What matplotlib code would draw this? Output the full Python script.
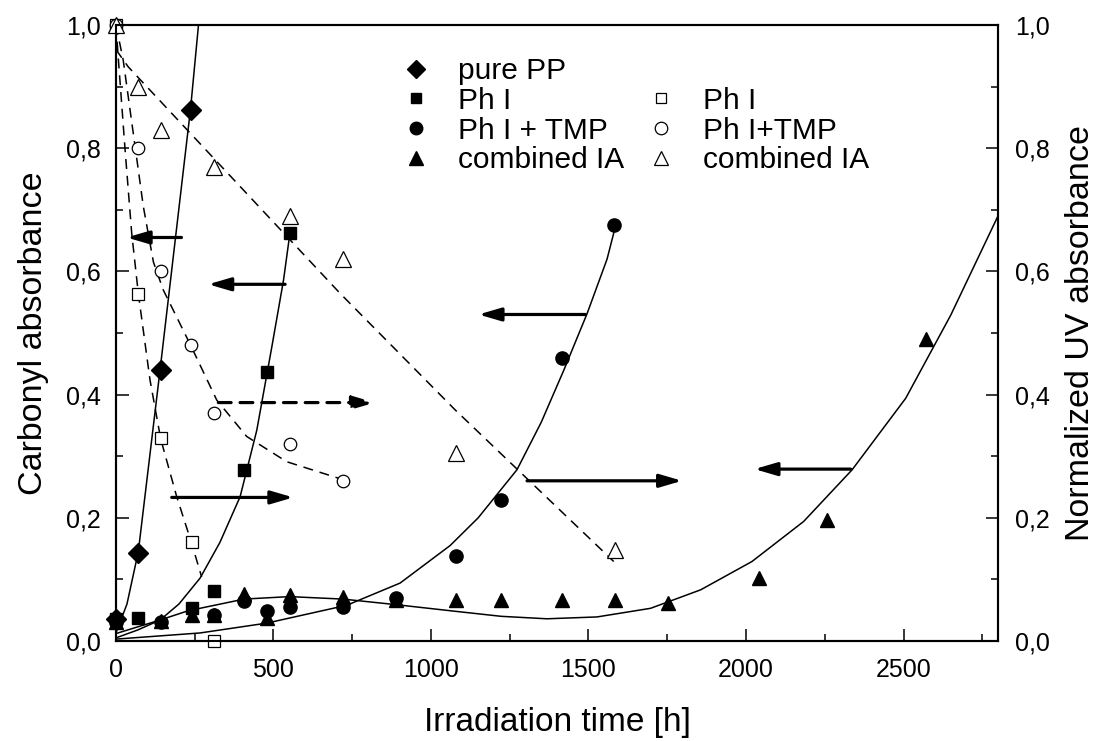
import matplotlib
matplotlib.use("Agg")
import matplotlib.pyplot as plt
from matplotlib.lines import Line2D
from matplotlib.ticker import MultipleLocator, FuncFormatter

plt.rcParams['font.family'] = ['Liberation Sans', 'DejaVu Sans']

# carbonyl absorbance (left axis), filled symbols
pp_t = [0, 70, 143, 237]
pp_y = [0.035, 0.143, 0.44, 0.862]
ph_t = [0, 71, 240, 312, 407, 479, 551]
ph_y = [0.035, 0.037, 0.053, 0.081, 0.278, 0.437, 0.662]
tmp_t = [0, 142, 312, 407, 479, 551, 720, 888, 1080, 1223, 1416, 1582]
tmp_y = [0.03, 0.031, 0.042, 0.065, 0.048, 0.055, 0.055, 0.070, 0.138, 0.229, 0.46, 0.675]
ia_t = [0, 142, 240, 312, 407, 479, 551, 720, 888, 1080, 1223, 1416, 1583, 1751, 2041, 2258, 2571]
ia_y = [0.03, 0.033, 0.042, 0.042, 0.077, 0.038, 0.075, 0.072, 0.066, 0.066, 0.066, 0.067, 0.066, 0.062, 0.102, 0.196, 0.49]

# normalized UV absorbance (right axis), open symbols
uv_ph_t = [0, 71, 142, 240, 312]
uv_ph_y = [1.0, 0.564, 0.33, 0.16, 0.0]
uv_tmp_t = [0, 69, 142, 238, 312, 551, 720]
uv_tmp_y = [1.0, 0.80, 0.60, 0.48, 0.37, 0.32, 0.26]
uv_ia_t = [0, 69, 142, 310, 551, 720, 1080, 1583]
uv_ia_y = [1.0, 0.90, 0.83, 0.77, 0.69, 0.62, 0.305, 0.148]

# fitted curves
fit_pp_t = [0, 35, 71, 140, 237, 262]
fit_pp_y = [0.013, 0.06, 0.145, 0.44, 0.865, 1.0]
fit_ph_t = [0, 70, 140, 200, 267, 330, 394, 447, 495, 532, 553]
fit_ph_y = [0.005, 0.018, 0.034, 0.06, 0.102, 0.16, 0.234, 0.342, 0.478, 0.586, 0.665]
fit_tmp_t = [0, 267, 479, 733, 902, 1061, 1150, 1273, 1350, 1422, 1496, 1559, 1585]
fit_tmp_y = [0.003, 0.013, 0.029, 0.058, 0.094, 0.155, 0.20, 0.278, 0.355, 0.44, 0.532, 0.62, 0.672]
fit_ia_t = [0, 140, 229, 407, 551, 720, 888, 1080, 1223, 1368, 1527, 1697, 1856, 2019, 2183, 2337, 2507, 2650, 2800]
fit_ia_y = [0.012, 0.034, 0.049, 0.068, 0.072, 0.068, 0.059, 0.048, 0.040, 0.036, 0.039, 0.053, 0.083, 0.129, 0.194, 0.278, 0.394, 0.529, 0.69]
fit_uv_ph_t = [0, 7, 29, 50, 71, 108, 142, 193, 240, 272]
fit_uv_ph_y = [1.0, 0.949, 0.797, 0.662, 0.564, 0.424, 0.328, 0.234, 0.159, 0.104]
fit_uv_tmp_t = [0, 23, 55, 87, 119, 150, 238, 320, 415, 542, 720]
fit_uv_tmp_y = [1.0, 0.943, 0.824, 0.705, 0.615, 0.57, 0.479, 0.391, 0.332, 0.291, 0.262]
fit_uv_ia_t = [0, 39, 712, 1077, 1580]
fit_uv_ia_y = [0.96, 0.932, 0.564, 0.375, 0.129]

# arrows pointing to the axis each curve belongs to: (start, end, y, dashed)
arrows = [
    (208, 34, 0.655, False),
    (537, 293, 0.579, False),
    (325, 822, 0.387, True),
    (177, 563, 0.233, False),
    (1490, 1151, 0.530, False),
    (1305, 1797, 0.260, False),
    (2332, 2027, 0.279, False),
]

comma = FuncFormatter(lambda v, p: f"{v:.1f}".replace(".", ","))

fig = plt.figure(figsize=(10.96, 7.41), dpi=100)
ax = fig.add_axes([0.1058, 0.135, 0.8048, 0.8313])
ax2 = ax.twinx()

fit_kw = dict(color='black', lw=1.1)
dash_kw = dict(color='black', lw=1.1, dashes=(6.5, 4.5))

ax.plot(fit_pp_t, fit_pp_y, **fit_kw)
ax.plot(fit_ph_t, fit_ph_y, **fit_kw)
ax.plot(fit_tmp_t, fit_tmp_y, **fit_kw)
ax.plot(fit_ia_t, fit_ia_y, **fit_kw)
ax2.plot(fit_uv_ph_t, fit_uv_ph_y, **dash_kw)
ax2.plot(fit_uv_tmp_t, fit_uv_tmp_y, **dash_kw)
ax2.plot(fit_uv_ia_t, fit_uv_ia_y, **dash_kw)

ax.plot(ia_t, ia_y, '^', color='black', ms=10, clip_on=False)
ax.plot(tmp_t, tmp_y, 'o', color='black', ms=9.5, clip_on=False)
ax.plot(ph_t, ph_y, 's', color='black', ms=8.8, clip_on=False)
ax.plot(pp_t, pp_y, 'D', color='black', ms=10, clip_on=False)

open_kw = dict(mfc='white', mec='black', mew=0.9, ls='none', clip_on=False)
ax2.plot(uv_ph_t, uv_ph_y, 's', ms=8, **open_kw)
ax2.plot(uv_tmp_t, uv_tmp_y, 'o', ms=9, **open_kw)
ax2.plot(uv_ia_t, uv_ia_y, '^', ms=11, **open_kw)

for x0, x1, y, dashed in arrows:
    ax.annotate('', xy=(x1, y), xytext=(x0, y),
                arrowprops=dict(arrowstyle='-|>,head_length=0.75,head_width=0.22',
                                color='black', lw=2.3, shrinkA=0, shrinkB=0,
                                mutation_scale=18,
                                linestyle=(0, (4, 2.8)) if dashed else '-'))

ax.set_xlim(0, 2800)
ax.set_ylim(0, 1.0)
ax2.set_ylim(0, 1.0)

ax.xaxis.set_major_locator(MultipleLocator(500))
ax.xaxis.set_minor_locator(MultipleLocator(250))
for a in (ax, ax2):
    a.yaxis.set_major_locator(MultipleLocator(0.2))
    a.yaxis.set_minor_locator(MultipleLocator(0.1))
    a.yaxis.set_major_formatter(comma)
    for s in a.spines.values():
        s.set_linewidth(1.5)

ax.tick_params(which='both', direction='in', top=False, right=False, width=1.1, labelsize=18)
ax.tick_params(which='major', length=9)
ax.tick_params(which='minor', length=5)
ax.tick_params(axis='x', pad=12)
ax.tick_params(axis='y', pad=11)
ax2.tick_params(which='both', direction='in', width=1.1, labelsize=18, pad=12)
ax2.tick_params(which='major', length=9)
ax2.tick_params(which='minor', length=5)

ax.set_xlabel('Irradiation time [h]', fontsize=24, labelpad=18)
ax.set_ylabel('Carbonyl absorbance', fontsize=24.5, labelpad=12)
ax2.set_ylabel('Normalized UV absorbance', fontsize=24.5, labelpad=11)

blank = Line2D([], [], ls='none', marker='')
handles = [
    Line2D([], [], ls='none', marker='D', color='black', ms=9),
    Line2D([], [], ls='none', marker='s', color='black', ms=7.5),
    Line2D([], [], ls='none', marker='o', color='black', ms=9),
    Line2D([], [], ls='none', marker='^', color='black', ms=10),
    blank,
    Line2D([], [], ls='none', marker='s', mfc='white', mec='black', mew=0.9, ms=7.5),
    Line2D([], [], ls='none', marker='o', mfc='white', mec='black', mew=0.9, ms=9),
    Line2D([], [], ls='none', marker='^', mfc='white', mec='black', mew=0.9, ms=10),
]
labels = ['pure PP', 'Ph I', 'Ph I + TMP', 'combined IA', '', 'Ph I', 'Ph I+TMP', 'combined IA']
ax2.legend(handles, labels, ncol=2, loc='upper left', bbox_to_anchor=(0.3235, 0.948),
           frameon=False, fontsize=21.5, labelspacing=0.06, handlelength=1.0,
           handletextpad=0.9, columnspacing=0.75, borderpad=0, borderaxespad=0)

fig.savefig('out.png', dpi=100)
